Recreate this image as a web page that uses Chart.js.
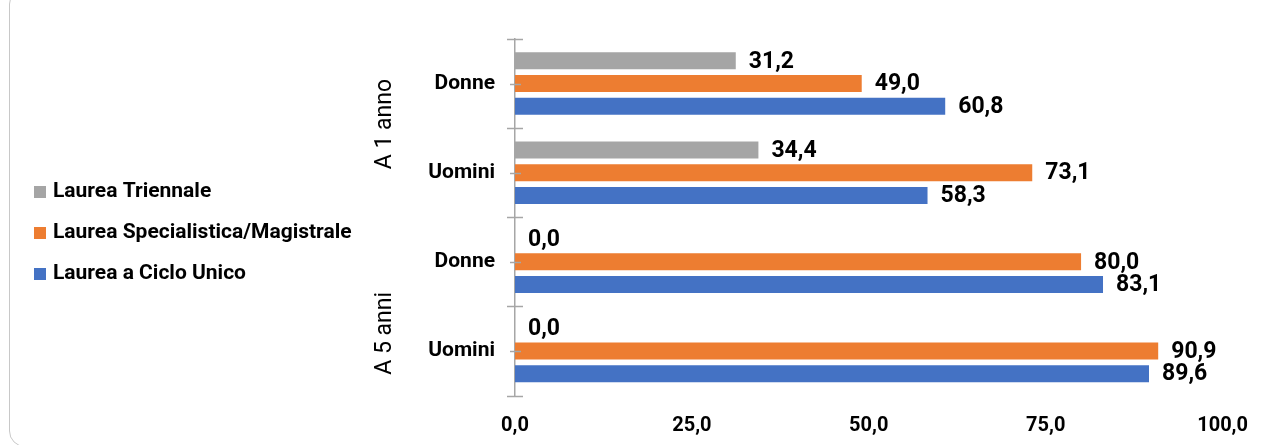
<!DOCTYPE html>
<html>
<head>
<meta charset="utf-8">
<script src="https://cdn.jsdelivr.net/npm/chart.js@4.4.0/dist/chart.umd.min.js"></script>
<style>
  html, body { margin: 0; padding: 0; background: #fff; }
  .wrap { position: relative; width: 1266px; height: 445px; overflow: hidden; }
  .frame { position: absolute; left: 9px; top: -12px; width: 1300px; height: 459px;
           border: 1px solid #c8c8c8; border-radius: 16px; box-sizing: border-box; }
  canvas { position: absolute; left: 0; top: 0; }
</style>
</head>
<body>
<div class="wrap">
  <div class="frame"></div>
  <canvas class="myChart" width="1266" height="445"></canvas>
</div>
<script>
// categories (bottom level) and groups (top level)
var categories = ["Donne", "Uomini", "Donne", "Uomini"];
var groups = ["A 1 anno", "A 5 anni"];

// series
var triennale = [31.2, 34.4, 0.0, 0.0];
var specialistica = [49.0, 73.1, 80.0, 90.9];
var cicloUnico = [60.8, 58.3, 83.1, 89.6];

// x axis ticks
var xTicks = [0, 25, 50, 75, 100];

function fmt(v) {
  return v.toFixed(1).replace(".", ",");
}

var ctx = document.querySelector(".myChart").getContext("2d");

// draws the axis tick marks, group labels, value labels and legend
var extras = {
  id: "extras",
  afterDraw: function (chart) {
    var c = chart.ctx;
    var y = chart.scales.y;
    var ax = y.right;
    c.save();

    // tick marks on category axis
    c.strokeStyle = "#a6a6a6";
    c.lineWidth = 1.5;
    for (var i = 0; i <= categories.length; i++) {
      var py = Math.round(y.getPixelForValue(i - 0.5)) + 0.5;
      c.beginPath();
      c.moveTo(ax - 8, py);
      c.lineTo(ax + 8, py);
      c.stroke();
    }
    for (var i = 0; i < categories.length; i++) {
      var py = Math.round(y.getPixelForValue(i)) + 0.5;
      c.beginPath();
      c.moveTo(ax - 5, py);
      c.lineTo(ax + 6, py);
      c.stroke();
    }

    // group labels (rotated)
    c.fillStyle = "#000";
    c.font = "23px Roboto";
    c.textAlign = "center";
    c.textBaseline = "middle";
    var shift = [-4, 27];
    for (var g = 0; g < groups.length; g++) {
      var gy = (y.getPixelForValue(g * 2 - 0.5) + y.getPixelForValue(g * 2 + 1.5)) / 2 + shift[g];
      c.save();
      c.translate(385, gy);
      c.rotate(-Math.PI / 2);
      c.fillText(groups[g], 0, 0);
      c.restore();
    }

    // value labels
    c.font = "bold 23px Roboto";
    c.textAlign = "left";
    chart.data.datasets.forEach(function (ds, di) {
      var meta = chart.getDatasetMeta(di);
      meta.data.forEach(function (bar, k) {
        c.fillText(fmt(ds.data[k]), bar.x + 13, bar.y + 1);
      });
    });

    // legend
    c.font = "bold 21px Roboto";
    chart.data.datasets.forEach(function (ds, di) {
      var ly = 192 + di * 41;
      c.fillStyle = ds.backgroundColor;
      c.fillRect(34, ly - 6, 12, 12);
      c.fillStyle = "#000";
      c.fillText(ds.label, 53, ly);
    });

    c.restore();
  },
};

var chart = new Chart(ctx, {
  type: "bar",
  data: {
    labels: categories,
    datasets: [
      { label: "Laurea Triennale", data: triennale, backgroundColor: "#a5a5a5" },
      { label: "Laurea Specialistica/Magistrale", data: specialistica, backgroundColor: "#ed7d31" },
      { label: "Laurea a Ciclo Unico", data: cicloUnico, backgroundColor: "#4472c4" },
    ],
  },
  options: {
    indexAxis: "y",
    responsive: false,
    animation: false,
    datasets: {
      bar: { categoryPercentage: 0.765, barPercentage: 0.75 },
    },
    layout: { padding: { top: 39, right: 40, bottom: 0, left: 0 } },
    plugins: {
      legend: { display: false },
      tooltip: { enabled: false },
    },
    scales: {
      x: {
        min: 0,
        max: 100,
        afterBuildTicks: function (scale) {
          scale.ticks = xTicks.map(function (v) { return { value: v }; });
        },
        afterFit: function (scale) {
          scale.height = 49.5;
        },
        grid: { display: false, drawTicks: false },
        border: { display: false },
        ticks: {
          padding: 18,
          color: "#000",
          font: { family: "Roboto", weight: "bold", size: 20 },
          callback: function (v) { return fmt(v); },
        },
      },
      y: {
        afterFit: function (scale) {
          scale.width = 515;
        },
        grid: { display: false, drawTicks: false },
        border: { display: true, color: "#a6a6a6", width: 1.5 },
        ticks: {
          padding: 20,
          color: "#000",
          font: { family: "Roboto", weight: "bold", size: 21 },
        },
      },
    },
  },
  plugins: [extras],
});
</script>
</body>
</html>
